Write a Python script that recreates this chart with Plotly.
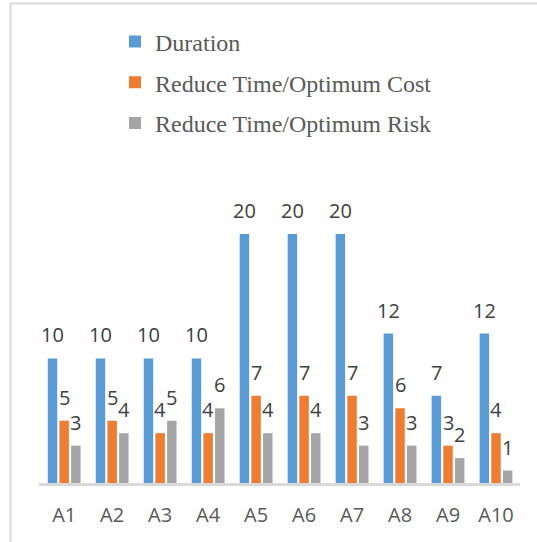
import plotly.graph_objects as go

categories = ["A1", "A2", "A3", "A4", "A5", "A6", "A7", "A8", "A9", "A10"]
duration = [10, 10, 10, 10, 20, 20, 20, 12, 7, 12]
opt_cost = [5, 5, 4, 4, 7, 7, 7, 6, 3, 4]
opt_risk = [3, 4, 5, 6, 4, 4, 3, 3, 2, 1]
series_names = ["Duration", "Reduce Time/Optimum Cost", "Reduce Time/Optimum Risk"]
series_values = [duration, opt_cost, opt_risk]
colors = ["#5B9BD5", "#ED7D31", "#A5A5A5"]

W, H = 537, 542
ML, MR, MT, MB = 39, 17, 209, 59
YMAX = 22
BARGAP = 0.27
GROUPGAP = 0.19

def px_x(p):
    return (p - ML) / (W - ML - MR)

def px_y(p):
    return (H - MB - p) / (H - MT - MB)

fig = go.Figure()
for k, (name, vals, col) in enumerate(zip(series_names, series_values, colors)):
    fig.add_trace(go.Bar(
        x=categories, y=vals, name=name, marker_color=col,
        marker_line_width=0, legendgroup=f"g{k}",
    ))

slot = (1 - BARGAP) / 3
annotations = []
for k, vals in enumerate(series_values):
    for i, v in enumerate(vals):
        annotations.append(dict(
            x=i + (k - 1) * slot, y=v, xref="x", yref="y",
            text=str(v), showarrow=False, yanchor="bottom", yshift=8,
            font=dict(family="Open Sans", size=20, color="#404040"),
        ))

shapes = [
    dict(type="line", xref="paper", yref="paper", x0=px_x(10), x1=px_x(W + 5),
         y0=px_y(3.5), y1=px_y(3.5), line=dict(color="#D9D9D9", width=2)),
    dict(type="line", xref="paper", yref="paper", x0=px_x(10.5), x1=px_x(10.5),
         y0=px_y(3.5), y1=px_y(H + 5), line=dict(color="#D9D9D9", width=2)),
]

fig.update_layout(
    width=W, height=H,
    margin=dict(l=ML, r=MR, t=MT, b=MB),
    paper_bgcolor="white", plot_bgcolor="white",
    barmode="group", bargap=BARGAP, bargroupgap=GROUPGAP,
    showlegend=True,
    legend=dict(
        x=px_x(115), y=px_y(19.5), xanchor="left", yanchor="top",
        font=dict(family="Liberation Serif", size=24, color="#595959"),
        tracegroupgap=6.5, bgcolor="rgba(0,0,0,0)",
    ),
    xaxis=dict(
        showline=True, linecolor="#D9D9D9", linewidth=2.5,
        ticks="", showgrid=False, ticklabelstandoff=12,
        tickfont=dict(family="Open Sans", size=20, color="#595959"),
    ),
    yaxis=dict(range=[0, YMAX], visible=False, showgrid=False),
    annotations=annotations,
    shapes=shapes,
)

fig.write_html("out.html", config={"displayModeBar": False},
               post_script="document.body.style.margin='0';")
